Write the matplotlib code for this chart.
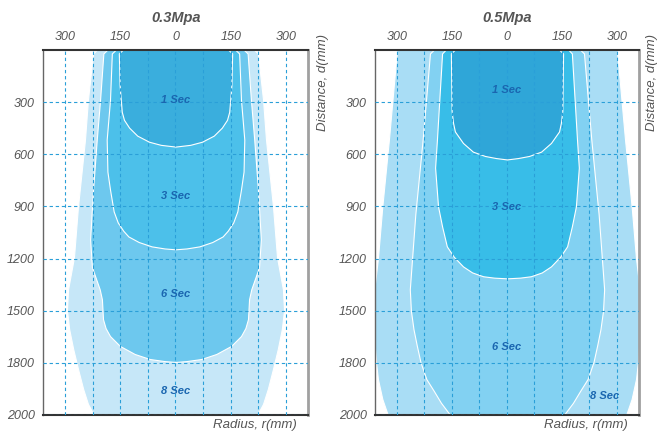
import matplotlib
matplotlib.use("Agg")
import matplotlib.pyplot as plt
from matplotlib import font_manager

# ---- data (depth in mm, half-width radius in mm) ----
titles = ["0.3Mpa", "0.5Mpa"]
zone_names = ["8 Sec", "6 Sec", "3 Sec", "1 Sec"]

# 0.3 MPa
d03_8 = [0, 20, 287, 516, 900, 1193, 1377, 1497, 1606, 1721, 1835, 1950, 2036, 2100]
w03_8 = [214, 224, 238, 246, 265, 276, 292, 295, 289, 278, 265, 251, 238, 222]
d03_6 = [0, 20, 287, 516, 800, 1090, 1250, 1377, 1434, 1549, 1600, 1646, 1703, 1749, 1778, 1790, 1795]
w03_6 = [186, 196, 205, 214, 224, 232, 227, 206, 200, 197, 190, 178, 151, 111, 70, 30, 0]
d03_3 = [0, 20, 287, 516, 700, 803, 929, 992, 1040, 1073, 1105, 1130, 1142, 1147]
w03_3 = [163, 173, 178, 187, 185, 178, 168, 157, 142, 128, 100, 65, 30, 0]
d03_1 = [0, 20, 200, 356, 402, 447, 493, 528, 546, 556]
w03_1 = [144, 154, 152, 146, 140, 126, 104, 72, 40, 0]

# 0.5 MPa
d05_8 = [0, 516, 900, 1200, 1377, 1500, 1663, 1800, 1893, 2008, 2100]
w05_8 = [300, 322, 340, 352, 362, 368, 362, 357, 352, 340, 325]
d05_6 = [0, 20, 516, 946, 1377, 1500, 1606, 1700, 1795, 1893, 1960, 2030, 2100]
w05_6 = [200, 210, 230, 250, 265, 262, 255, 246, 236, 220, 200, 180, 155]
d05_3 = [0, 20, 516, 677, 900, 1015, 1130, 1190, 1245, 1280, 1302, 1310, 1314]
w05_3 = [168, 177, 191, 196, 188, 177, 164, 145, 120, 95, 65, 35, 0]
d05_1 = [0, 20, 350, 420, 469, 535, 585, 610, 622, 630]
w05_1 = [143, 153, 151, 147, 142, 120, 93, 60, 30, 0]

zones = [
    [(d03_8, w03_8), (d03_6, w03_6), (d03_3, w03_3), (d03_1, w03_1)],
    [(d05_8, w05_8), (d05_6, w05_6), (d05_3, w05_3), (d05_1, w05_1)],
]
colors = [
    ["#c6e7f8", "#6dc8ee", "#4cc0ea", "#3aaedd"],
    ["#a9ddf5", "#82d1f2", "#38bde8", "#2fa6d8"],
]
# label positions (radius, depth)
label_pos = [
    [(0, 1962), (0, 1405), (0, 843), (0, 287)],
    [(267, 1990), (0, 1709), (0, 906), (0, 229)],
]

x_major = [-300, -150, 0, 150, 300]
x_major_lbl = ["300", "150", "0", "150", "300"]
x_minor = [-225, -75, 75, 225]
y_ticks = [300, 600, 900, 1200, 1500, 1800, 2100]
y_tick_lbl = ["300", "600", "900", "1200", "1500", "1800", "2000"]

# ---- fonts ----
names = {f.name for f in font_manager.fontManager.ttflist}
narrow = "Liberation Sans Narrow" if "Liberation Sans Narrow" in names else "Liberation Sans"
plt.rcParams["font.family"] = [narrow, "DejaVu Sans"]

fig = plt.figure(figsize=(6.59, 4.32), dpi=100)
grey = "#555555"
grid_c = "#2a9fd8"

ax_pos = [[0.0653, 0.0394, 0.402, 0.845], [0.569, 0.0394, 0.4006, 0.845]]
title_x = [0.267, 0.769]
dist_x = [0.490, 0.989]
rad_x = [0.4507, 0.953]

for i in range(2):
    ax = fig.add_axes(ax_pos[i])
    for (d, w), c in zip(zones[i], colors[i]):
        ax.fill_betweenx(d, [-v for v in w], w, facecolor=c, edgecolor="white",
                         linewidth=0.8, zorder=1)
    ax.set_xlim(-360, 360)
    ax.set_ylim(2100, 0)

    ax.xaxis.tick_top()
    ax.set_xticks(x_major)
    ax.set_xticklabels(x_major_lbl)
    ax.set_xticks(x_minor, minor=True)
    ax.set_yticks(y_ticks)
    ax.set_yticklabels(y_tick_lbl)
    ax.tick_params(which="both", length=0)
    ax.tick_params(axis="x", pad=5, labelsize=9, labelcolor=grey)
    ax.tick_params(axis="y", pad=6, labelsize=9, labelcolor=grey)
    for t in ax.get_xticklabels() + ax.get_yticklabels():
        t.set_style("italic")

    ax.grid(True, which="both", color=grid_c, linestyle=(0, (3, 2.5)), linewidth=0.8, zorder=2)
    ax.set_axisbelow(False)
    for gl in ax.get_xgridlines() + ax.get_ygridlines():
        gl.set_zorder(2)

    ax.spines["top"].set_color("#333333")
    ax.spines["top"].set_linewidth(1.5)
    ax.spines["bottom"].set_color("#333333")
    ax.spines["bottom"].set_linewidth(1.5)
    ax.spines["left"].set_color("#666666")
    ax.spines["left"].set_linewidth(1.0)
    ax.spines["right"].set_color("#a0a0a0")
    ax.spines["right"].set_linewidth(2.0)

    for name, (px, py) in zip(zone_names, label_pos[i]):
        ax.text(px, py, name, ha="center", va="center", fontsize=8, fontweight="bold",
                style="italic", color="#1a66b0", zorder=5)

    fig.text(title_x[i], 0.958, titles[i], ha="center", va="center", fontsize=10.5,
             fontweight="bold", style="italic", color=grey)
    fig.text(dist_x[i], 0.808, "Distance, d(mm)", rotation=90, ha="center", va="center",
             fontsize=9.5, style="italic", color=grey)
    fig.text(rad_x[i], 0.016, "Radius, r(mm)", ha="right", va="center",
             fontsize=9.5, style="italic", color=grey)

fig.savefig("out.png", dpi=100)
